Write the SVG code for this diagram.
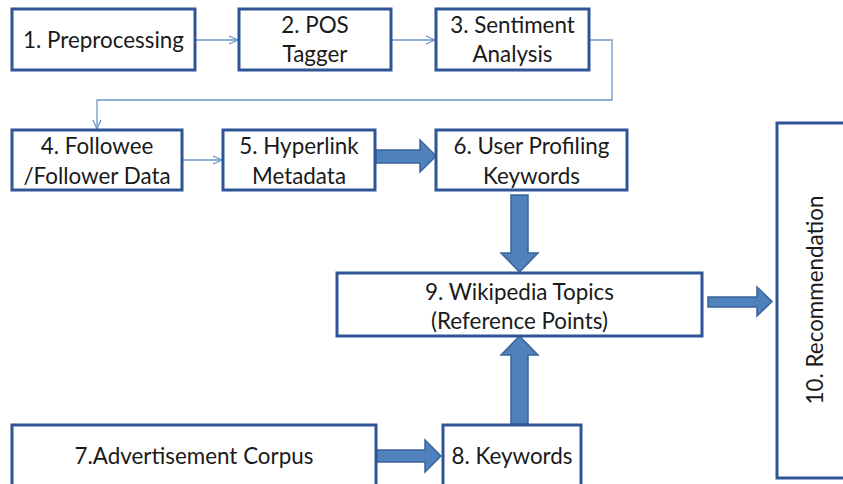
<svg xmlns="http://www.w3.org/2000/svg" width="843" height="484" viewBox="0 0 843 484">
  <style>
    .box { fill: #ffffff; stroke: #2f5597; stroke-width: 3; }
    .lbl { font-family: Lato, "Open Sans", "Liberation Sans", sans-serif; font-size: 22.4px; fill: #1a1a1a; text-anchor: middle; }
    .thin { fill: none; stroke: #6d96c8; stroke-width: 1.3; }
    .fat { fill: #4f81bd; stroke: #3a639a; stroke-width: 1.5; stroke-linejoin: miter; }
  </style>
  <defs>
    <marker id="open" viewBox="0 0 10 10" refX="10" refY="5" markerWidth="10" markerHeight="10" markerUnits="userSpaceOnUse" orient="auto">
      <path d="M1,1 L10,5 L1,9" fill="none" stroke="#6d96c8" stroke-width="1.3"/>
    </marker>
  </defs>
  <rect width="843" height="484" fill="#ffffff"/>

  <g id="connectors">
    <line class="thin" x1="195" y1="40" x2="238" y2="40" marker-end="url(#open)"/>
    <line class="thin" x1="391" y1="40" x2="435" y2="40" marker-end="url(#open)"/>
    <polyline class="thin" points="589,40 612,40 612,100 97,100 97,129" marker-end="url(#open)" stroke="#9dbbe0"/>
    <line class="thin" x1="182" y1="160" x2="222" y2="160" marker-end="url(#open)"/>
    <!-- block arrows -->
    <path class="fat" d="M376,150 L420,150 L420,140 L436,156 L420,172 L420,163 L376,163 Z"/>
    <path class="fat" d="M511,195 L528,195 L528,253 L538,253 L519.5,272 L501,253 L511,253 Z"/>
    <path class="fat" d="M511,424 L528,424 L528,355 L538,355 L519.5,336 L501,355 L511,355 Z"/>
    <path class="fat" d="M708,297 L757,297 L757,287 L772,301.5 L757,316 L757,307 L708,307 Z"/>
    <path class="fat" d="M377,450 L425,450 L425,440 L441,456 L425,472 L425,462 L377,462 Z"/>
  </g>

  <g id="n1"><rect class="box" x="12" y="9" width="183" height="61"/>
    <text class="lbl" x="103.5" y="48">1. Preprocessing</text></g>
  <g id="n2"><rect class="box" x="239" y="9" width="152" height="61"/>
    <text class="lbl" x="315" y="33">2. POS</text><text class="lbl" x="315" y="62">Tagger</text></g>
  <g id="n3"><rect class="box" x="436" y="9" width="153" height="61"/>
    <text class="lbl" x="512.5" y="33">3. Sentiment</text><text class="lbl" x="512.5" y="62">Analysis</text></g>
  <g id="n4"><rect class="box" x="12" y="130" width="170" height="60"/>
    <text class="lbl" x="97" y="154">4. Followee</text><text class="lbl" x="97" y="184">/Follower Data</text></g>
  <g id="n5"><rect class="box" x="223" y="130" width="152" height="60"/>
    <text class="lbl" x="299" y="154">5. Hyperlink</text><text class="lbl" x="299" y="184">Metadata</text></g>
  <g id="n6"><rect class="box" x="436" y="130" width="191" height="60"/>
    <text class="lbl" x="531.5" y="154">6. User Profiling</text><text class="lbl" x="531.5" y="184">Keywords</text></g>
  <g id="n9"><rect class="box" x="337" y="273" width="365" height="63"/>
    <text class="lbl" x="519.5" y="300">9. Wikipedia Topics</text><text class="lbl" x="519.5" y="329">(Reference Points)</text></g>
  <g id="n10"><rect class="box" x="777" y="123" width="80" height="355"/>
    <text class="lbl" transform="translate(823,300) rotate(-90)" x="0" y="0">10. Recommendation</text></g>
  <g id="n7"><rect class="box" x="12" y="425" width="364" height="70"/>
    <text class="lbl" x="194" y="464">7.Advertisement Corpus</text></g>
  <g id="n8"><rect class="box" x="443" y="425" width="138" height="70"/>
    <text class="lbl" x="512" y="464">8. Keywords</text></g>
</svg>
